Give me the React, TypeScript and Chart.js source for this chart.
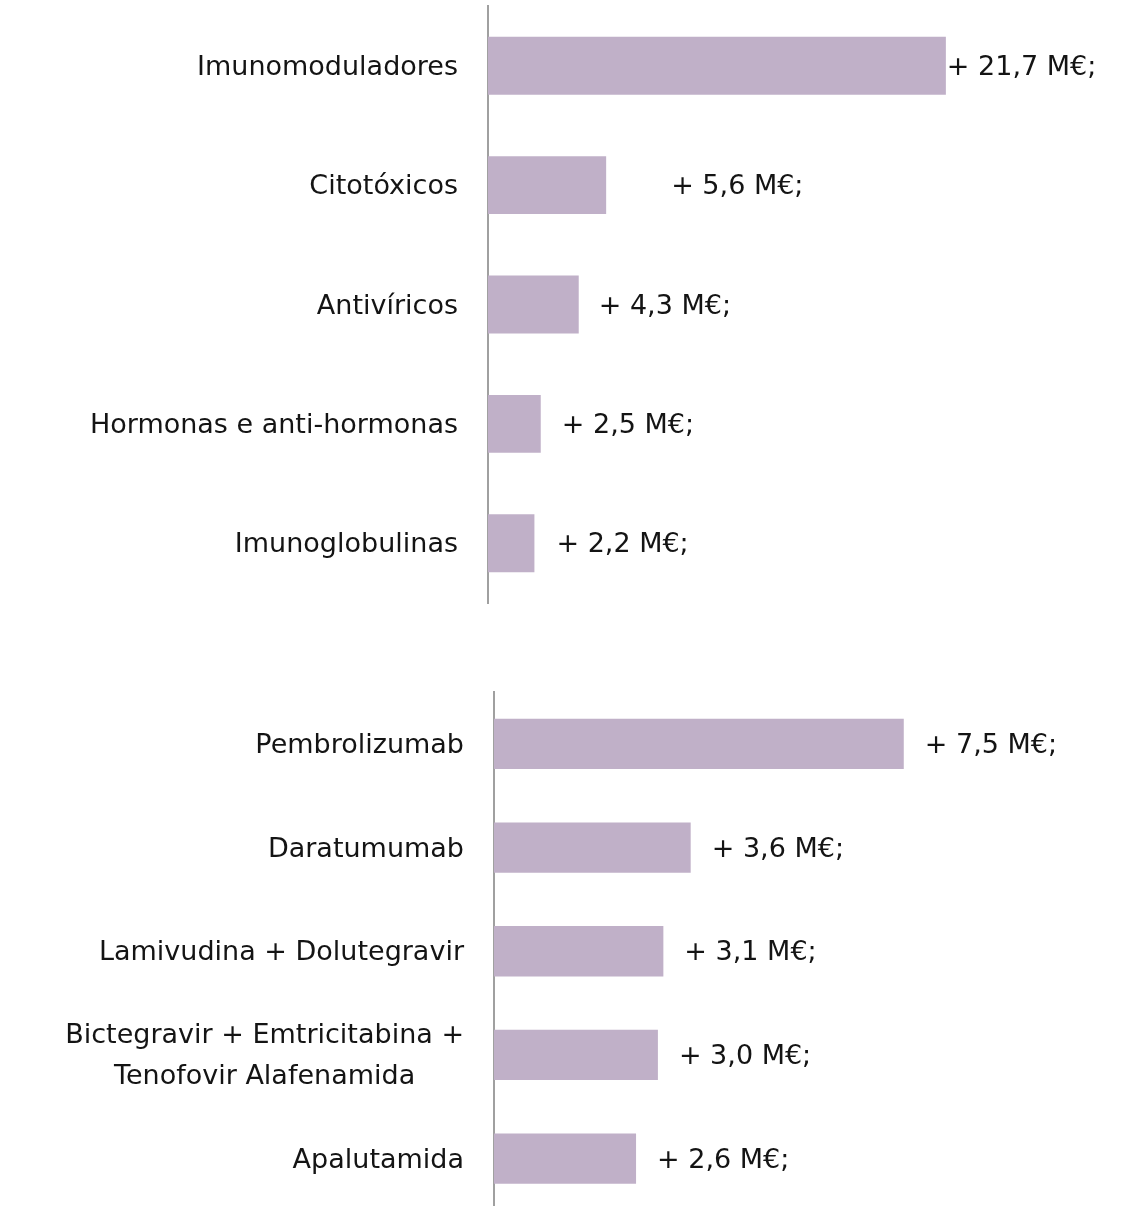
import React, { useEffect, useRef } from "react";
import { Chart, registerables } from "chart.js";

Chart.register(...registerables);

const topCategories: string[][] = [
  ["Imunomoduladores"],
  ["Citotóxicos"],
  ["Antivíricos"],
  ["Hormonas e anti-hormonas"],
  ["Imunoglobulinas"],
];
const topValues = [21.7, 5.6, 4.3, 2.5, 2.2];

const bottomCategories: string[][] = [
  ["Pembrolizumab"],
  ["Daratumumab"],
  ["Lamivudina + Dolutegravir"],
  ["Bictegravir + Emtricitabina +", "Tenofovir Alafenamida"],
  ["Apalutamida"],
];
const bottomValues = [7.5, 3.6, 3.1, 3.0, 2.6];

const FONT = "'DejaVu Sans', sans-serif";
const TEXT = "#141414";
const BAR = "#C0B0C8";
const AXIS = "#A0A0A0";

const valueLabel = (v: number) => "+ " + v.toFixed(1).replace(".", ",") + " M€;";

const labelPlugin = {
  id: "barLabels",
  afterDatasetsDraw(chart: any, _args: any, opts: any) {
    const ctx = chart.ctx as CanvasRenderingContext2D;
    const meta = chart.getDatasetMeta(0);
    const labels = chart.data.labels as string[][];
    const values = chart.data.datasets[0].data as number[];
    ctx.save();
    ctx.font = `${opts.size}px ${FONT}`;
    ctx.fillStyle = TEXT;
    ctx.textBaseline = "middle";
    meta.data.forEach((bar: any, i: number) => {
      const lines = labels[i];
      const maxW = Math.max(...lines.map((l) => ctx.measureText(l).width));
      const right = chart.chartArea.left - opts.catGap;
      const cx = right - maxW / 2;
      const yc = bar.y + opts.dy;
      ctx.textAlign = "center";
      const y0 = yc - ((lines.length - 1) * opts.lineHeight) / 2;
      lines.forEach((l, j) => ctx.fillText(l, cx, y0 + j * opts.lineHeight));
      ctx.textAlign = "left";
      ctx.fillText(valueLabel(values[i]), bar.x + opts.gaps[i], yc);
    });
    ctx.restore();
  },
};

function makeConfig(
  labels: string[][],
  values: number[],
  axisX: number,
  xMax: number,
  padding: { top: number; bottom: number; right: number },
  gaps: number[]
): any {
  return {
    type: "bar",
    data: {
      labels,
      datasets: [
        {
          data: values,
          backgroundColor: BAR,
          barPercentage: 0.485,
          categoryPercentage: 1,
        },
      ],
    },
    options: {
      indexAxis: "y",
      animation: false,
      responsive: true,
      maintainAspectRatio: false,
      layout: { padding: { top: padding.top, bottom: padding.bottom, left: 0, right: padding.right } },
      plugins: {
        legend: { display: false },
        tooltip: { enabled: false },
        barLabels: { size: 27, catGap: 30, lineHeight: 41, gaps, dy: 2 },
      },
      scales: {
        x: { display: false, min: 0, max: xMax },
        y: {
          afterFit: (s: any) => {
            s.width = axisX;
          },
          grid: { display: false },
          border: { display: true, color: AXIS, width: 2 },
          ticks: { display: false },
        },
      },
    },
    plugins: [labelPlugin],
  };
}

export default function App() {
  const topRef = useRef<HTMLCanvasElement>(null);
  const botRef = useRef<HTMLCanvasElement>(null);

  useEffect(() => {
    const top = new Chart(
      topRef.current!,
      makeConfig(topCategories, topValues, 488, 30, { top: 6, bottom: 6, right: 13 }, [1, 65, 20, 21, 22])
    );
    const bot = new Chart(
      botRef.current!,
      makeConfig(bottomCategories, bottomValues, 494, 11, { top: 52, bottom: 4.5, right: 39 }, [21, 21, 21, 21, 21])
    );
    return () => {
      top.destroy();
      bot.destroy();
    };
  }, []);

  return (
    <div
      style={{
        position: "absolute",
        left: 0,
        top: 0,
        width: 1134,
        height: 1206,
        overflow: "hidden",
        background: "#fff",
      }}
    >
      <div style={{ position: "absolute", left: 0, top: 0, width: 1134, height: 609 }}>
        <canvas ref={topRef} />
      </div>
      <div style={{ position: "absolute", left: 0, top: 640, width: 1134, height: 575 }}>
        <canvas ref={botRef} />
      </div>
    </div>
  );
}
